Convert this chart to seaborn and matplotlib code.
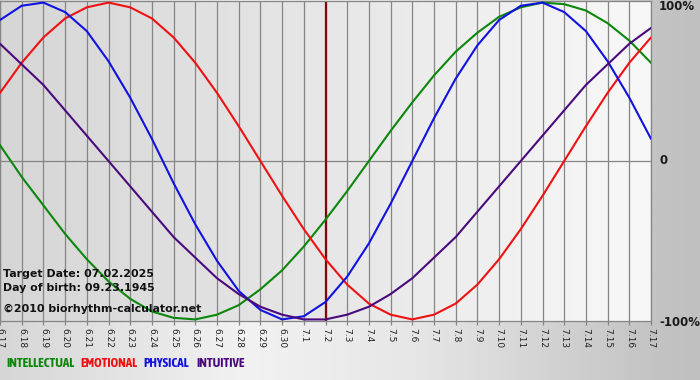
import numpy as np
import pandas as pd
import seaborn as sns
import matplotlib.pyplot as plt
from matplotlib.colors import LinearSegmentedColormap

# one value per day (-1 .. 1)
days = ['6.17', '6.18', '6.19', '6.20', '6.21', '6.22', '6.23', '6.24', '6.25', '6.26',
        '6.27', '6.28', '6.29', '6.30', '7.1', '7.2', '7.3', '7.4', '7.5', '7.6',
        '7.7', '7.8', '7.9', '7.10', '7.11', '7.12', '7.13', '7.14', '7.15', '7.16', '7.17']
intellectual = [0.10, -0.10, -0.28, -0.46, -0.62, -0.76, -0.87, -0.95, -0.99, -1.00,
                -0.97, -0.91, -0.81, -0.69, -0.54, -0.37, -0.19, 0.00, 0.19, 0.37,
                0.54, 0.69, 0.81, 0.91, 0.97, 1.00, 0.99, 0.95, 0.87, 0.76, 0.62]
emotional = [0.43, 0.62, 0.78, 0.90, 0.97, 1.00, 0.97, 0.90, 0.78, 0.62,
             0.43, 0.22, 0.00, -0.22, -0.43, -0.62, -0.78, -0.90, -0.97, -1.00,
             -0.97, -0.90, -0.78, -0.62, -0.43, -0.22, 0.00, 0.22, 0.43, 0.62, 0.78]
physical = [0.89, 0.98, 1.00, 0.94, 0.82, 0.63, 0.40, 0.14, -0.14, -0.40,
            -0.63, -0.82, -0.94, -1.00, -0.98, -0.89, -0.73, -0.52, -0.27, 0.00,
            0.27, 0.52, 0.73, 0.89, 0.98, 1.00, 0.94, 0.82, 0.63, 0.40, 0.14]
intuitive = [0.74, 0.61, 0.48, 0.32, 0.16, 0.00, -0.16, -0.32, -0.48, -0.61,
             -0.74, -0.84, -0.92, -0.97, -1.00, -1.00, -0.97, -0.92, -0.84, -0.74,
             -0.61, -0.48, -0.32, -0.16, 0.00, 0.16, 0.32, 0.48, 0.61, 0.74, 0.84]
target_day = '7.2'

cycles = ['INTELLECTUAL', 'EMOTIONAL', 'PHYSICAL', 'INTUITIVE']
colors = ['#0b870b', '#ee1111', '#1212e0', '#4a0a7e']
legend_x = [6, 80, 143, 196]

df = pd.DataFrame({'day': range(len(days)),
                   'INTELLECTUAL': intellectual, 'EMOTIONAL': emotional,
                   'PHYSICAL': physical, 'INTUITIVE': intuitive})
df = df.melt(id_vars='day', var_name='cycle', value_name='value')

sns.set_style('white')
plt.rcParams['font.family'] = ['DejaVu Sans']

W, H = 700, 380
fig = plt.figure(figsize=(7, 3.8), dpi=100)

# page background
bg = fig.add_axes([0, 0, 1, 1], zorder=-5)
bg.set_axis_off()
page_cmap = LinearSegmentedColormap.from_list(
    'page', [(0, '#d6d6d6'), (0.35, '#f2f2f2'), (0.6, '#e6e6e6'), (0.93, '#c4c4c4'), (1, '#c0c0c0')])
bg.imshow(np.linspace(0, 1, 256)[None, :], cmap=page_cmap, aspect='auto', extent=[0, 1, 0, 1])
bg.set_xlim(0, 1)
bg.set_ylim(0, 1)

ax = fig.add_axes([0, (H - 321) / H, 651 / W, 320 / H])
plot_cmap = LinearSegmentedColormap.from_list('plot', ['#d6d6d6', '#f8f8f8'])
ax.imshow(np.linspace(0, 1, 256)[None, :], cmap=plot_cmap, aspect='auto',
          extent=[0, len(days) - 1, -1.02, 1.02], zorder=0)

for i in range(len(days)):
    ax.axvline(i, color='#858585', lw=0.9, zorder=1)
ax.axhline(0, color='#858585', lw=0.9, zorder=1)
ax.axvline(days.index(target_day), color='#7a0a0a', lw=1.6, zorder=2)

sns.lineplot(data=df, x='day', y='value', hue='cycle', hue_order=cycles,
             palette=colors, lw=1.5, legend=False, ax=ax, zorder=3)

ax.set_xlim(0, len(days) - 1)
ax.set_ylim(-1.01, 1.01)
ax.set_xticks(range(len(days)))
ax.set_xticklabels(days, rotation=-90, fontsize=6.5, color='#222222')
ax.set_yticks([])
ax.set_xlabel('')
ax.set_ylabel('')
ax.tick_params(axis='x', length=3, width=0.9, color='#858585', pad=2, bottom=True)
for s in ax.spines.values():
    s.set_color('#858585')
    s.set_linewidth(0.9)

def px(x, y):
    return x / W, 1 - y / H

# percent labels on the right
for label, y in [('100%', 7), ('0', 161), ('-100%', 322)]:
    fig.text(*px(659, y), label, fontsize=8.5, fontweight='bold', color='#1a1a1a',
             ha='left', va='center')

# info text in the plot
for label, y in [('Target Date: 07.02.2025', 277), ('Day of birth: 09.23.1945', 291),
                 ('\u00a92010 biorhythm-calculator.net', 312)]:
    fig.text(*px(3, y), label, fontsize=7.9, fontweight='bold', color='#111111',
             ha='left', va='baseline')

# legend words in a narrow bold face, sized so the first word spans about 69 px
renderer = fig.canvas.get_renderer()
legend_font = dict(fontweight='bold', family=['Asap Condensed', 'DejaVu Sans'])
probe = fig.text(0, 0, cycles[0], fontsize=10, **legend_font)
size = 10 * 69 / probe.get_window_extent(renderer).width
probe.remove()
for label, color, x in zip(cycles, colors, legend_x):
    fig.text(*px(x, 367), label, fontsize=size, color=color,
             ha='left', va='baseline', **legend_font)

fig.savefig('out.png', dpi=100)
